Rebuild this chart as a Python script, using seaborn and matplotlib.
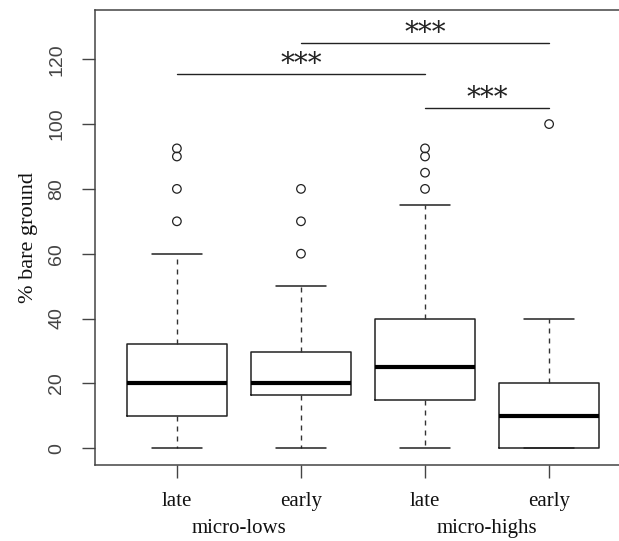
import matplotlib
matplotlib.use("Agg")
import pandas as pd
import matplotlib.pyplot as plt
import seaborn as sns

# Valeurs
groups = ["micro-lows", "micro-highs"]
seasons = ["late", "early", "late", "early"]
q1 = [10, 16.3, 15, 0]
medians = [20, 20, 25, 10]
q3 = [32.2, 29.7, 40, 20]
whisker_low = [0, 0, 0, 0]
whisker_high = [60, 50, 75, 40]
outliers = [[70, 80, 90, 92.5], [60, 70, 80], [80, 85, 90, 92.5], [100]]

# Comparaisons significatives
sig_from = [1, 2, 3]
sig_to = [3, 4, 4]
sig_y = [115.5, 125, 105]
sig_label = ["***", "***", "***"]

sns.set_style("white")
plt.rcParams["font.family"] = ["Liberation Serif", "DejaVu Serif"]

ink = "#222222"
fig = plt.figure(figsize=(6.19, 5.41), dpi=100)
ax = fig.add_axes([95 / 619, 76 / 541, 536 / 619, 455 / 541])

positions = [1, 2, 3, 4]
stats = []
for i in range(4):
    stats.append(dict(med=medians[i], q1=q1[i], q3=q3[i],
                      whislo=whisker_low[i], whishi=whisker_high[i], fliers=[]))

ax.bxp(stats, positions=positions, widths=0.8, capwidths=0.4, showfliers=False,
       boxprops=dict(color=ink, linewidth=1.1),
       medianprops=dict(color="black", linewidth=3, solid_capstyle="butt"),
       whiskerprops=dict(color="#333333", linewidth=1, linestyle=(0, (3.6, 3.6))),
       capprops=dict(color=ink, linewidth=1.1))

# Valeurs extrêmes
df_out = pd.DataFrame({
    "pos": [positions[i] for i in range(4) for _ in outliers[i]],
    "value": [v for vals in outliers for v in vals],
})
sns.scatterplot(data=df_out, x="pos", y="value", marker="o", s=38,
                facecolor="none", edgecolor=ink, linewidth=0.9, ax=ax, zorder=3)

# Barres de significativité
for a, b, y, lab in zip(sig_from, sig_to, sig_y, sig_label):
    ax.plot([a, b], [y, y], color=ink, linewidth=1)
    ax.text((a + b) / 2, y + 3, lab, ha="center", va="center", fontsize=20,
            family="DejaVu Serif", color=ink)

ax.set_xlim(0.34, 4.66)
ax.set_ylim(-5.2, 135.2)
ax.set_xticks(positions)
ax.set_xticklabels(seasons, fontsize=15)
ax.set_yticks(range(0, 121, 20))
ax.set_yticklabels([str(v) for v in range(0, 121, 20)], family="Liberation Sans",
                   fontsize=14, rotation=90, va="center", color="#333333")
ax.tick_params(axis="both", direction="out", length=9.4, width=1, colors="#444444",
               left=True, bottom=True)
ax.tick_params(axis="y", pad=12)
ax.tick_params(axis="x", pad=10, labelcolor="#111111")
ax.set_xlabel("")
ax.set_ylabel("% bare ground", fontsize=16, color="#111111")
ax.yaxis.set_label_coords(-0.106, 0.5)

for g, x in zip(groups, [1.5, 3.5]):
    ax.text(x, -0.14, g, transform=ax.get_xaxis_transform(), ha="center", va="center",
            fontsize=15, color="#111111")

for sp in ax.spines.values():
    sp.set_visible(True)
    sp.set_color("#444444")
    sp.set_linewidth(1.1)

plt.savefig("out.png", dpi=100)
